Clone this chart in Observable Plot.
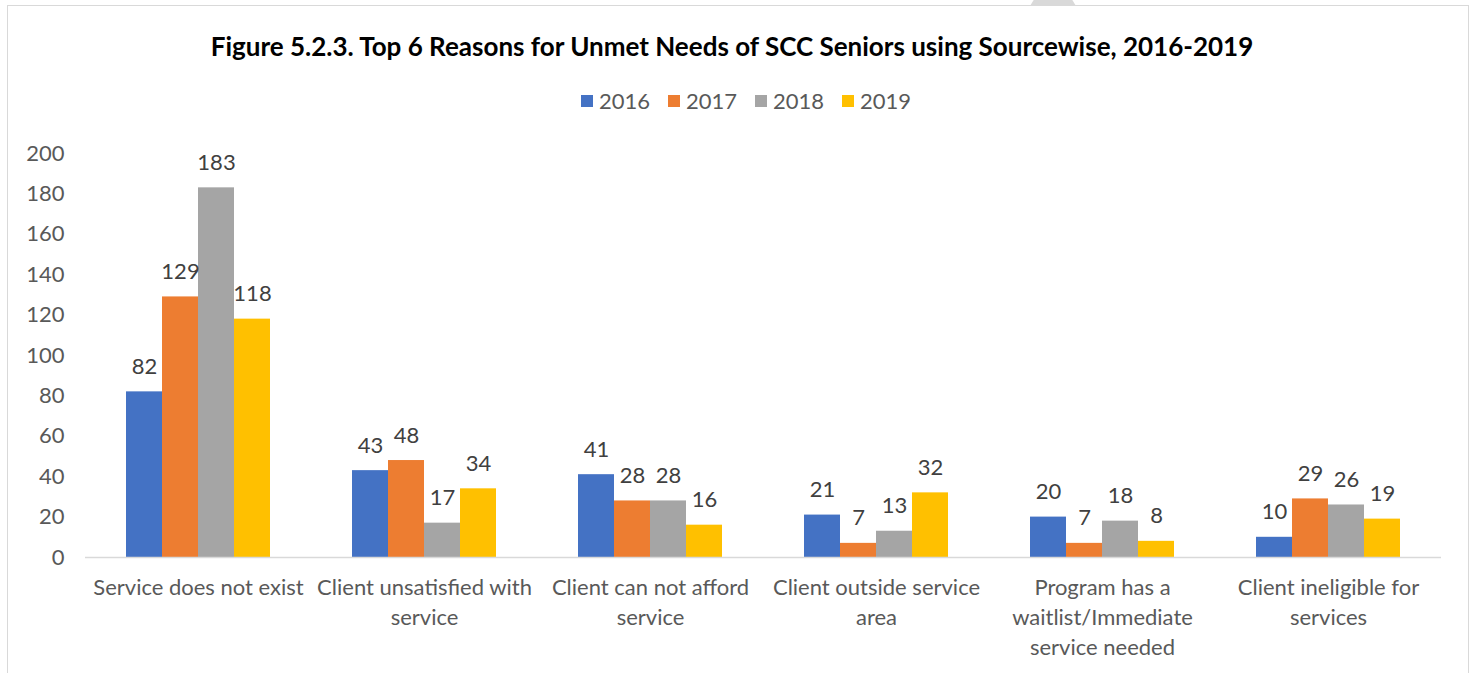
<!DOCTYPE html>
<html>
<head>
<meta charset="utf-8">
<script src="https://cdn.jsdelivr.net/npm/d3@7"></script>
<script src="https://cdn.jsdelivr.net/npm/@observablehq/plot@0.6"></script>
<style>
  html, body { margin: 0; padding: 0; background: #fff; }
  #wrap { position: relative; width: 1476px; height: 673px; overflow: hidden; font-family: Lato, "Liberation Sans", sans-serif; }
  #frame { position: absolute; left: 7px; top: 5px; width: 1462px; height: 700px; border: 1.5px solid #d9d9d9; box-sizing: border-box; }
  #tab { position: absolute; left: 1030px; top: 0; width: 46px; height: 6px; background: #d9d9d9; clip-path: polygon(8% 0, 92% 0, 100% 100%, 0 100%); }
  #title { position: absolute; left: 0; width: 1464px; top: 28px; text-align: center; font-weight: bold; font-size: 26px; color: #000; line-height: 36px; }
  #legend { position: absolute; left: 8px; width: 1476px; top: 87px; display: flex; justify-content: center; gap: 18px; font-size: 22px; color: #595959; line-height: 28px; }
  #legend .item { display: flex; align-items: center; gap: 6px; }
  #legend .sw { width: 12px; height: 12px; display: inline-block; }
  #chart { position: absolute; left: 0; top: 130px; }
</style>
</head>
<body>
<div id="wrap">
  <div id="frame"></div>
  <div id="tab"></div>
  <div id="title">Figure 5.2.3. Top 6 Reasons for Unmet Needs of SCC Seniors using Sourcewise, 2016-2019</div>
  <div id="legend"></div>
  <div id="chart"></div>
</div>
<script>
const categories = [
  "Service does not exist",
  "Client unsatisfied with service",
  "Client can not afford service",
  "Client outside service area",
  "Program has a waitlist/Immediate service needed",
  "Client ineligible for services"
];
const categoryLabels = [
  "Service does not exist",
  "Client unsatisfied with\nservice",
  "Client can not afford\nservice",
  "Client outside service\narea",
  "Program has a\nwaitlist/Immediate\nservice needed",
  "Client ineligible for\nservices"
];
const years = ["2016", "2017", "2018", "2019"];
const values2016 = [82, 43, 41, 21, 20, 10];
const values2017 = [129, 48, 28, 7, 7, 29];
const values2018 = [183, 17, 28, 13, 18, 26];
const values2019 = [118, 34, 16, 32, 8, 19];
const colors = ["#4472C4", "#ED7D31", "#A5A5A5", "#FFC000"];
const yTicks = [0, 20, 40, 60, 80, 100, 120, 140, 160, 180, 200];

const series = [values2016, values2017, values2018, values2019];
const data = [];
categories.forEach((c, i) => {
  years.forEach((y, j) => data.push({category: c, year: y, value: series[j][i]}));
});
const labelOf = new Map(categories.map((c, i) => [c, categoryLabels[i]]));

const legend = document.getElementById("legend");
years.forEach((y, j) => {
  const it = document.createElement("span");
  it.className = "item";
  const sw = document.createElement("span");
  sw.className = "sw";
  sw.style.background = colors[j];
  it.appendChild(sw);
  it.appendChild(document.createTextNode(y));
  legend.appendChild(it);
});

const chart = Plot.plot({
  width: 1476,
  height: 543,
  marginLeft: 83,
  marginRight: 33,
  marginTop: 23,
  marginBottom: 116,
  style: {fontFamily: "Lato, 'Liberation Sans', sans-serif", color: "#595959", background: "transparent"},
  fx: {domain: categories, padding: 0, label: null},
  x: {domain: years, paddingInner: 0, paddingOuter: 1.088, axis: null},
  y: {domain: [0, 200], axis: null},
  color: {domain: years, range: colors},
  marks: [
    Plot.axisY({ticks: yTicks, tickSize: 0, tickPadding: 21, fontSize: 22, label: null, fill: "#595959"}),
    Plot.axisFx({anchor: "bottom", tickSize: 0, tickPadding: 16, fontSize: 22, lineHeight: 1.36, label: null, fill: "#595959", tickFormat: d => labelOf.get(d)}),
    Plot.barY(data, {fx: "category", x: "year", y: "value", fill: "year", inset: 0}),
    Plot.ruleY([0], {stroke: "#d9d9d9", strokeWidth: 1.5}),
    Plot.text(data, {fx: "category", x: "year", y: "value", text: d => String(d.value), fontSize: 22, fill: "#404040", lineAnchor: "bottom", dy: -18})
  ]
});
document.getElementById("chart").appendChild(chart);
</script>
</body>
</html>
